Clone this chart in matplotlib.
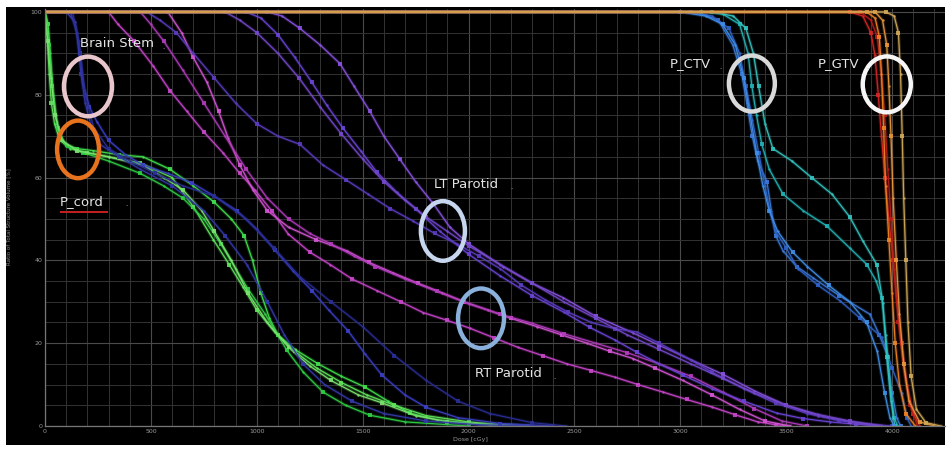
import matplotlib
matplotlib.use("Agg")
import matplotlib.pyplot as plt
import matplotlib.patheffects as pe
from matplotlib.patches import Ellipse, Rectangle
from matplotlib.ticker import MultipleLocator

# ---- DVH curves: (dose cGy, volume %) ----
green_1 = [(0, 100), (15, 97), (25, 90), (35, 82), (50, 75), (70, 70), (100, 68), (150, 67), (227, 66.5),
           (350, 65.5), (463, 65), (590, 62), (700, 58), (800, 54), (880, 50), (940, 46), (980, 40),
           (1020, 32), (1060, 26), (1100, 22), (1180, 18.5), (1290, 15), (1400, 12), (1511, 9.4),
           (1620, 6), (1723, 3.1), (1850, 1.5), (2000, 0.7), (2290, 0)]
green_2 = [(0, 100), (10, 95), (20, 85), (30, 78), (45, 73), (70, 69), (120, 67), (200, 66), (300, 65),
           (450, 63.5), (600, 60), (700, 53), (795, 45), (870, 39), (936, 33.5), (1000, 28), (1086, 22.6),
           (1180, 18), (1283, 14), (1400, 10.5), (1520, 7.5), (1650, 5), (1800, 2.5), (2000, 1), (2200, 0)]
green_3 = [(0, 100), (20, 92), (40, 80), (60, 72), (100, 67.5), (180, 66), (300, 64), (450, 61), (560, 58),
           (652, 55), (750, 50), (830, 44), (900, 38), (960, 33), (1040, 27), (1142, 18.3), (1220, 13),
           (1313, 8.2), (1420, 5), (1534, 2.6), (1700, 1), (2000, 0)]
green_4 = [(0, 100), (12, 93), (28, 84), (48, 75), (80, 69), (150, 66.5), (300, 65), (463, 63), (560, 60),
           (652, 57), (740, 52), (800, 47), (880, 40), (960, 32), (1050, 25), (1150, 19), (1250, 14.5),
           (1350, 11), (1480, 7.5), (1591, 5.6), (1750, 2.5), (1900, 1), (2100, 0.3), (2300, 0)]

brain_1 = [(0, 100), (100, 100), (142, 97.6), (165, 90), (180, 82.7), (210, 77), (245, 73.5), (300, 69),
           (380, 65.5), (463, 63), (580, 61), (694, 58.7), (800, 55.5), (906, 52), (1000, 47.5),
           (1086, 42.5), (1170, 37.5), (1260, 32.7), (1340, 28), (1431, 23), (1510, 17.5), (1591, 12.3),
           (1700, 7.5), (1800, 4.5), (1950, 2), (2150, 0.6), (2400, 0)]
brain_2 = [(0, 100), (120, 100), (150, 95), (170, 85), (190, 78), (220, 72), (260, 68), (350, 65),
           (450, 62), (600, 58), (750, 52), (850, 46), (953, 39), (1050, 30), (1130, 22), (1218, 15),
           (1320, 10), (1450, 6), (1600, 3), (1800, 1.2), (2050, 0.3), (2300, 0)]
brain_3 = [(0, 100), (130, 100), (160, 93), (190, 80), (230, 72), (300, 67), (400, 64), (520, 61),
           (650, 58), (800, 55.5), (950, 50), (1080, 43), (1205, 36), (1350, 30), (1500, 24), (1650, 17),
           (1800, 11), (1950, 6), (2100, 3), (2300, 0.8), (2460, 0)]

rt_parotid_1 = [(0, 100), (300, 100), (345, 97), (420, 93), (510, 87), (590, 81), (670, 76), (750, 71),
                (840, 66), (920, 61), (991, 57), (1070, 52), (1148, 46.4), (1250, 42), (1346, 39),
                (1450, 35.5), (1567, 32.7), (1680, 30), (1785, 27.4), (1900, 25.5), (2007, 23.6),
                (2120, 21.3), (2233, 19), (2350, 17), (2465, 15), (2580, 13.4), (2691, 11.8), (2800, 10),
                (2918, 8.2), (3030, 6.4), (3149, 4.6), (3260, 2.7), (3366, 1), (3450, 0.3), (3520, 0)]
rt_parotid_2 = [(0, 100), (580, 100), (645, 95), (700, 89), (765, 83), (820, 76), (865, 69.5), (920, 63),
                (982, 57), (1050, 52), (1150, 48), (1280, 45), (1426, 42.3), (1530, 39.5), (1643, 37),
                (1760, 34.5), (1874, 32.2), (1980, 30), (2092, 28), (2200, 26), (2323, 24), (2440, 22),
                (2559, 20), (2670, 18), (2776, 16.3), (2880, 14), (3012, 11), (3150, 7.5), (3280, 4),
                (3400, 1.2), (3520, 0)]
rt_parotid_3 = [(0, 100), (450, 100), (500, 97), (560, 93), (650, 86), (750, 78), (850, 70), (950, 62),
                (1050, 55), (1150, 50), (1250, 46.5), (1350, 44), (1460, 41), (1560, 38.5), (1700, 35.5),
                (1850, 32.5), (2000, 29.5), (2150, 27), (2300, 24.8), (2450, 22.3), (2600, 20),
                (2750, 17.7), (2900, 15), (3050, 12), (3200, 8.2), (3350, 4.2), (3480, 1.2), (3600, 0)]

lt_parotid_1 = [(0, 100), (950, 100), (1020, 98.5), (1100, 94.5), (1180, 89), (1260, 83), (1330, 77.5),
                (1406, 72), (1490, 66.5), (1567, 61.3), (1660, 56.5), (1752, 52.4), (1865, 47), (2000, 41.5),
                (2148, 36.3), (2300, 31.5), (2450, 27.5), (2573, 23.8), (2690, 20.8), (2795, 17.8),
                (2900, 15), (3012, 12.3), (3150, 9), (3300, 6), (3456, 3.1), (3580, 1.8), (3706, 1),
                (3830, 0.4), (3940, 0)]
lt_parotid_2 = [(0, 100), (1050, 100), (1120, 99), (1204, 96), (1300, 92), (1393, 87.5), (1460, 82),
                (1534, 76), (1600, 70), (1676, 64.4), (1750, 59), (1832, 53.8), (1912, 48), (2000, 44),
                (2162, 38.5), (2300, 34.5), (2446, 31), (2600, 26.5), (2776, 22.5), (2900, 19.5),
                (3050, 16), (3200, 12.5), (3350, 8.5), (3500, 5), (3650, 2.5), (3800, 1), (3950, 0)]
lt_parotid_3 = [(0, 100), (480, 100), (543, 98), (620, 95), (700, 90), (800, 84), (900, 78), (1000, 73),
                (1100, 70), (1204, 68), (1313, 63), (1420, 59.5), (1525, 56), (1630, 52.5), (1738, 49.5),
                (1840, 46.5), (1945, 44), (2050, 41), (2150, 38), (2250, 34), (2361, 30.5), (2470, 27.5),
                (2580, 25), (2690, 23.5), (2795, 22.7), (2900, 20), (3012, 17), (3150, 13), (3300, 9),
                (3450, 5.5), (3600, 3), (3750, 1.3), (3900, 0.4), (4000, 0)]
lt_parotid_4 = [(0, 100), (850, 100), (920, 98), (1000, 95), (1100, 90), (1200, 84), (1300, 77),
                (1400, 70.5), (1500, 64.5), (1600, 59), (1700, 54.5), (1800, 50.5), (1900, 47), (2000, 43.5),
                (2150, 39), (2300, 34.5), (2450, 30), (2600, 26), (2750, 22), (2900, 18.5), (3050, 15),
                (3200, 11.5), (3350, 8), (3500, 5), (3650, 2.8), (3800, 1.2), (3950, 0)]

ctv_1 = [(0, 100), (3000, 100), (3100, 99.5), (3180, 98), (3248, 92), (3290, 85), (3314, 78), (3340, 70),
         (3366, 64), (3409, 59), (3430, 52), (3450, 46), (3485, 42.3), (3550, 38.5), (3626, 35.8),
         (3750, 31.5), (3895, 27), (3940, 22), (3975, 17.5), (4000, 8), (4022, 2), (4040, 0)]
ctv_2 = [(0, 100), (3050, 100), (3150, 99), (3230, 96), (3280, 90), (3310, 82), (3340, 74), (3370, 66),
         (3400, 58), (3423, 52), (3450, 47), (3500, 43), (3555, 38), (3650, 34), (3753, 30.3), (3850, 26),
         (3952, 21.4), (4000, 14), (4046, 7.9), (4070, 2), (4090, 0)]
ctv_3 = [(0, 100), (3100, 100), (3200, 99.5), (3280, 97), (3320, 90), (3338, 82), (3360, 75), (3385, 68),
         (3420, 62), (3485, 56), (3580, 52), (3692, 48.3), (3800, 43), (3881, 39), (3925, 35), (3952, 30.8),
         (3970, 22), (3980, 16.6), (3995, 8), (4010, 2), (4027, 0)]
ctv_4 = [(0, 100), (3150, 100), (3250, 99), (3310, 96), (3345, 90), (3370, 82), (3400, 73), (3437, 67),
         (3527, 64), (3620, 60), (3716, 56), (3800, 50.5), (3862, 44.7), (3928, 39), (3957, 29.6),
         (3975, 16.6), (3995, 6), (4013, 0)]
ctv_5 = [(0, 100), (3000, 100), (3120, 99), (3200, 97), (3260, 92), (3300, 84), (3330, 75), (3360, 66),
         (3390, 58), (3420, 52), (3460, 47), (3530, 42), (3600, 38.5), (3700, 34), (3800, 30), (3880, 25),
         (3930, 18), (3965, 8), (3990, 2), (4010, 0)]

gtv_1 = [(0, 100), (3800, 100), (3862, 99), (3900, 95), (3919, 89.6), (3935, 80), (3950, 70), (3966, 60),
         (3985, 50), (4005, 40), (4022, 30), (4045, 20), (4070, 10), (4100, 3), (4131, 0)]
gtv_2 = [(0, 100), (3850, 100), (3900, 98), (3930, 94), (3950, 85), (3965, 75), (3980, 62), (3995, 50),
         (4010, 38), (4030, 25), (4055, 14), (4085, 5), (4120, 0)]
gtv_3 = [(0, 100), (3880, 100), (3920, 98.5), (3940, 94), (3950, 85), (3960, 72), (3970, 58), (3985, 45),
         (4000, 32), (4015, 20), (4035, 10), (4065, 3), (4110, 0)]
gtv_4 = [(0, 100), (3920, 100), (3955, 98), (3975, 92), (3985, 82), (3995, 70), (4005, 55), (4020, 40),
         (4035, 27), (4055, 15), (4080, 6), (4130, 1), (4200, 0)]
gtv_5 = [(0, 100), (3970, 100), (4010, 99), (4030, 95), (4040, 85), (4048, 70), (4055, 55), (4065, 40),
         (4075, 25), (4090, 12), (4115, 4), (4160, 0.8), (4230, 0)]

CURVES = [
    (green_1, "#3fe04c"), (green_2, "#5ee65a"), (green_3, "#2fcf44"), (green_4, "#7be36f"),
    (brain_1, "#3b3fc4"), (brain_2, "#3438a8"), (brain_3, "#2a2e96"),
    (rt_parotid_1, "#c845cc"), (rt_parotid_2, "#d455d4"), (rt_parotid_3, "#b23bbd"),
    (lt_parotid_1, "#6a44d6"), (lt_parotid_2, "#8a52e0"), (lt_parotid_3, "#5b3cc0"), (lt_parotid_4, "#7548cc"),
    (ctv_1, "#3a78d8"), (ctv_2, "#2f62c8"), (ctv_3, "#22b2b6"), (ctv_4, "#33c4c0"), (ctv_5, "#3f8ee6"),
    (gtv_1, "#d82424"), (gtv_2, "#b81c1c"), (gtv_3, "#f08222"), (gtv_4, "#e8963a"), (gtv_5, "#d0a858"),
]

W, H = 949, 450


def px_x(p):
    return p / W


def px_y(p):
    return 1 - p / H


fig = plt.figure(figsize=(W / 100, H / 100), dpi=100, facecolor="white")
bg = Rectangle((px_x(6), px_y(445)), 939 / W, 438 / H, transform=fig.transFigure,
               facecolor="black", edgecolor="none", zorder=-10)
fig.patches.append(bg)

ax = fig.add_axes([px_x(45), px_y(426), 900 / W, 417 / H])
ax.set_zorder(1)
ax.set_facecolor("black")
ax.set_xlim(0, 4250)
ax.set_ylim(0, 100.7)

ax.xaxis.set_major_locator(MultipleLocator(500))
ax.xaxis.set_minor_locator(MultipleLocator(100))
ax.yaxis.set_major_locator(MultipleLocator(20))
ax.yaxis.set_minor_locator(MultipleLocator(5))
ax.grid(which="major", color="#4a4a4a", linewidth=0.8)
ax.grid(which="minor", color="#333333", linewidth=0.7)
ax.set_axisbelow(True)
ax.tick_params(which="both", length=0, labelsize=4.5, colors="#9a9a9a", pad=2)
for side in ["top", "right"]:
    ax.spines[side].set_visible(False)
for side in ["left", "bottom"]:
    ax.spines[side].set_color("#777777")
    ax.spines[side].set_linewidth(0.9)

for curve, color in CURVES:
    xs = [p[0] for p in curve]
    ys = [p[1] for p in curve]
    ax.plot(xs, ys, color=color, linewidth=0.9, alpha=0.95,
            path_effects=[pe.Stroke(linewidth=2.4, foreground=color, alpha=0.25), pe.Normal()])
    ax.plot(xs[1::2], ys[1::2], "s", color=color, markersize=3.0, alpha=0.9, markeredgewidth=0)
    ax.plot(xs[2::2], ys[2::2], "o", color=color, markersize=1.7, alpha=0.9, markeredgewidth=0)

# annotation rings
rings = [
    ((203, 82), 227, 14.4, "#e9c6cb"),
    ((156, 66.8), 198, 13.9, "#e8731e"),
    ((1879, 47.1), 208, 14.4, "#c6d6ef"),
    ((2059, 26), 217, 14.4, "#8ab0dc"),
    ((3338, 82.7), 217, 13.5, "#d9d9d9"),
    ((3975, 82.5), 227, 13.5, "#f6f6f6"),
]
for center, w, h, color in rings:
    ax.add_patch(Ellipse(center, w, h, fill=False, edgecolor=color, linewidth=3.2, zorder=5))

label_kw = dict(color="#e4e4e4", fontsize=9.5, family="DejaVu Sans", zorder=6, va="center")
ax.text(165, 92.3, "Brain Stem", **label_kw)
ax.text(71, 54.3, "P_cord", **label_kw)
ax.text(1838, 58.4, "LT Parotid", **label_kw)
ax.text(2030, 12.7, "RT Parotid", **label_kw)
ax.text(2951, 87.5, "P_CTV", **label_kw)
ax.text(3650, 87.5, "P_GTV", **label_kw)
for x, y in [(555, 91.5), (380, 53.5), (2195, 57.6), (2400, 11.9), (3185, 86.7), (3880, 86.7)]:
    ax.text(x, y, ".", color="#bbbbbb", fontsize=5, zorder=6, va="center")
ax.plot([75, 295], [51.6, 51.6], color="#c42020", linewidth=1.4, zorder=6)

fig.text(px_x(9), px_y(217), "Ratio of Total Structure Volume [%]", rotation=90,
         fontsize=4, color="#8a8a8a", ha="center", va="center")
fig.text(px_x(470), px_y(440), "Dose [cGy]", fontsize=4.5, color="#9a9a9a", ha="center", va="center")

fig.savefig("out.png", dpi=100, facecolor="white")
